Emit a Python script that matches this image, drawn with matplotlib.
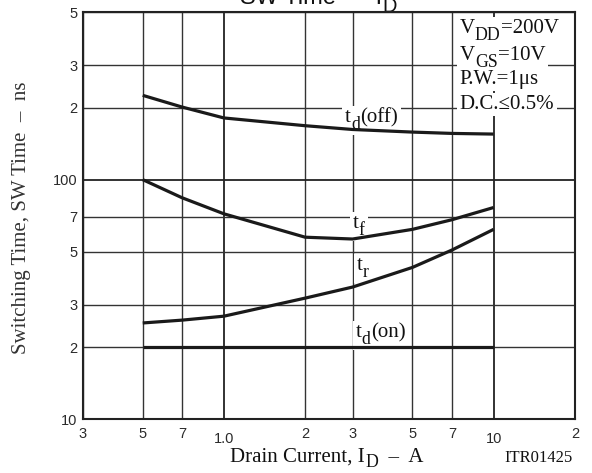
import matplotlib
matplotlib.use('Agg')
import matplotlib.pyplot as plt
import matplotlib.transforms as mtransforms
from matplotlib.patches import Rectangle

# drain current, A
current = [0.5, 0.7, 1.0, 2.0, 3.0, 5.0, 7.0, 10.0]

# switching times, ns
td_off = [225, 201, 181, 168, 162, 158, 156, 155]
tf = [100, 84, 72, 57.5, 56.5, 62, 68, 76.5]
tr = [25.2, 25.9, 26.9, 32, 35.6, 43, 50.8, 62]
td_on = [20, 20, 20, 20, 20, 20, 20, 20]

x_major = [1.0, 10.0]
x_major_labels = ['1.0', '10']
x_minor = [0.3, 0.5, 0.7, 2, 3, 5, 7, 20]
x_minor_labels = ['3', '5', '7', '2', '3', '5', '7', '2']
y_major = [10, 100]
y_major_labels = ['10', '100']
y_minor = [20, 30, 50, 70, 200, 300, 500]
y_minor_labels = ['2', '3', '5', '7', '2', '3', '5']

# text pieces: (string, is_subscript)
conditions = [
    [('V', False), ('DD', True), ('=200V', False)],
    [('V', False), ('GS', True), ('=10V', False)],
    [('P.W.=1\u03bcs', False)],
    [('D.C.\u22640.5%', False)],
]
curve_labels = [
    [('t', False), ('d', True), ('(off)', False)],
    [('t', False), ('f', True)],
    [('t', False), ('r', True)],
    [('t', False), ('d', True), ('(on)', False)],
]

fig = plt.figure(figsize=(5.92, 4.73), dpi=100)
ax = fig.add_axes([0.140, 0.114, 0.831, 0.860])
ax.set_xscale('log')
ax.set_yscale('log')
ax.set_xlim(0.3, 20)
ax.set_ylim(10, 500)

ax.set_xticks(x_major)
ax.set_xticklabels(x_major_labels)
ax.set_xticks(x_minor, minor=True)
ax.set_xticklabels(x_minor_labels, minor=True)
ax.set_yticks(y_major)
ax.set_yticklabels(y_major_labels)
ax.set_yticks(y_minor, minor=True)
ax.set_yticklabels(y_minor_labels, minor=True)
ax.tick_params(axis='both', which='both', length=0, labelsize=10.5, colors='#2a2a2a')
ax.tick_params(axis='x', which='major', pad=9.5)
ax.tick_params(axis='x', which='minor', pad=5.5)
ax.tick_params(axis='y', which='both', pad=4)
for lbl in ax.get_xticklabels() + ax.get_xticklabels(minor=True) + \
        ax.get_yticklabels() + ax.get_yticklabels(minor=True):
    lbl.set_fontfamily('Liberation Sans')

ax.grid(which='major', color='#222222', lw=1.3)
ax.grid(which='minor', color='#333333', lw=1.0)
for s in ax.spines.values():
    s.set_linewidth(1.5)
    s.set_color('#222222')

for series in (td_off, tf, tr, td_on):
    ax.plot(current, series, color='#1a1a1a', lw=2.3, solid_capstyle='butt', zorder=3)

renderer = fig.canvas.get_renderer()


def rich_text(x, y, parts, transform, size, family, color='#111111', box=False, sub_drop=0.32):
    # lay out text pieces left to right, subscripts lowered and a bit smaller
    dx = 0.0
    texts = []
    for s, sub in parts:
        fs = size * 0.85 if sub else size
        dy = -size * sub_drop if sub else 0.0
        trans = mtransforms.offset_copy(transform, fig=fig, x=dx, y=dy, units='points')
        t = ax.text(x, y, s, transform=trans, fontsize=fs, family=family, color=color,
                    ha='left', va='baseline', zorder=2.5, clip_on=False)
        texts.append(t)
        dx += t.get_window_extent(renderer).width * 72 / fig.dpi
    if box:
        # white patch behind the whole label, breaking the grid lines
        bb = mtransforms.Bbox.union([t.get_window_extent(renderer) for t in texts])
        ax.add_patch(Rectangle((bb.x0 - 3, bb.y0 - 2), bb.width + 6, bb.height + 4,
                               transform=mtransforms.IdentityTransform(),
                               facecolor='white', edgecolor='none', zorder=2.4,
                               clip_on=False))


serif = 'Liberation Serif'
cond_y = [0.948, 0.882, 0.823, 0.762]
for parts, yv in zip(conditions, cond_y):
    rich_text(0.766, yv, parts, ax.transAxes, 15, serif, box=True)

label_pos = [(0.533, 0.730), (0.549, 0.469), (0.557, 0.366), (0.555, 0.201)]
for parts, (xv, yv) in zip(curve_labels, label_pos):
    rich_text(xv, yv, parts, ax.transAxes, 15, serif, box=True)

rich_text(0.405, 0.9915, [('SW Time  \u2013  I', False), ('D', True)], fig.transFigure,
          17, 'Liberation Sans')
rich_text(0.389, 0.024, [('Drain Current, I', False), ('D', True), ('  \u2013  A', False)],
          fig.transFigure, 15, serif, sub_drop=0.25)
fig.text(0.037, 0.540, 'Switching Time, SW Time  \u2013  ns', rotation=90,
         ha='center', va='center', family=serif, fontsize=15, color='#333333')
fig.text(0.968, 0.024, 'ITR01425', ha='right', va='baseline',
         family=serif, fontsize=12, color='#111111')

fig.savefig('out.png', dpi=100)
